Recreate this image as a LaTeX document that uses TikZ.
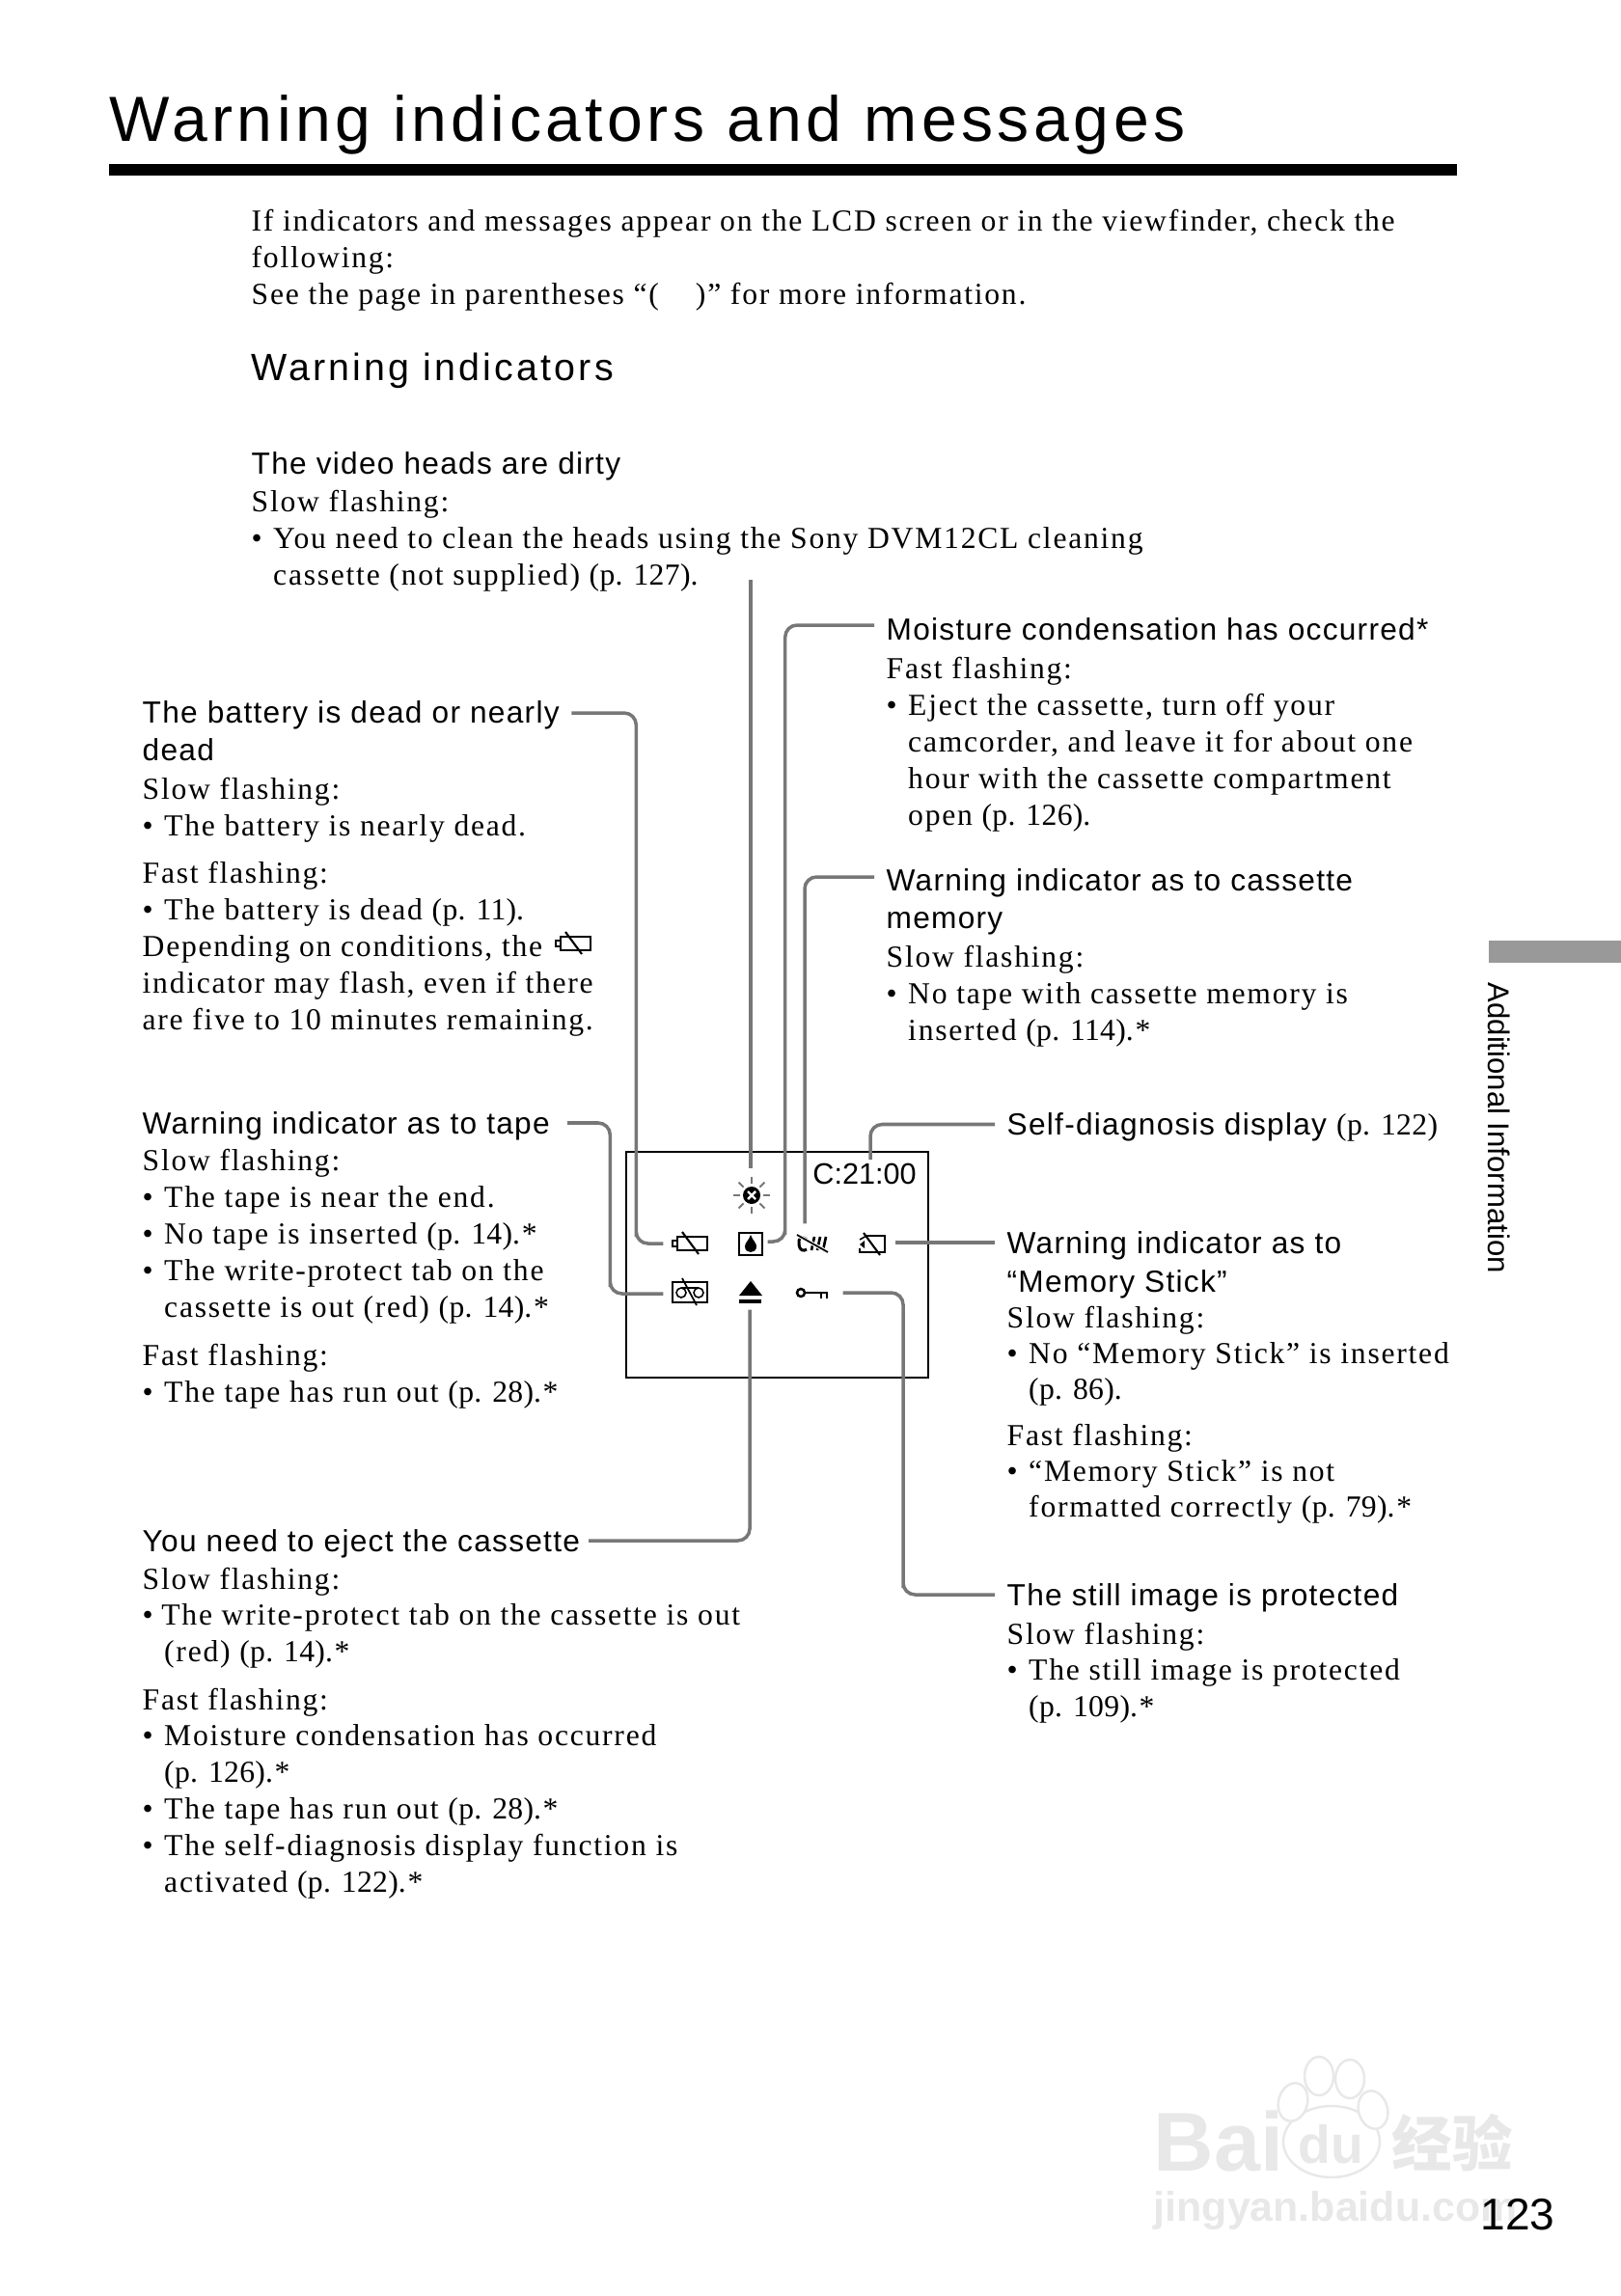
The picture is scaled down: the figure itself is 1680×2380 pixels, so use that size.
\documentclass[tikz,border=0pt]{standalone}
\usepackage{fontspec}
\usepackage{xcolor}
\usetikzlibrary{calc,positioning}
\setmainfont{Liberation Serif}[LetterSpace=5.5]
\setsansfont{Liberation Sans}[LetterSpace=4]
\newfontfamily\titlefont{Liberation Sans}[LetterSpace=6.8]
\newfontfamily\subfont{Liberation Sans}[LetterSpace=8]
\newfontfamily\plainsans{Liberation Sans}
\newfontfamily\pagefont{Liberation Serif}[LetterSpace=1]
\newfontfamily\markfont{Liberation Sans Bold}
\newfontfamily\markcjk{Noto Sans CJK SC}
\definecolor{leadgray}{HTML}{777777}
\definecolor{tabgray}{HTML}{999999}
\definecolor{markgray}{HTML}{E8E8E8}
\newcommand{\bul}{\makebox[6.4pt][l]{•}}
\newcommand{\ind}{\hspace*{6.4pt}}
\newcommand{\pg}[1]{{\pagefont (p. #1)}}
% battery glyph, also used inside the running text
\newcommand{\batglyph}[2]{%
  \draw[line width=0.45pt] (#1-13,#2-7) rectangle (#1+18,#2+7);
  \draw[fill=white,line width=0.45pt] (#1-18,#2-3) rectangle (#1-13,#2+3);
  \draw[line width=0.6pt] (#1-8,#2-12) -- (#1+9,#2+11);}

\begin{document}
\begin{tikzpicture}[
    x=0.01cm, y=-0.01cm,
    bodytext/.style={anchor=north west, inner sep=0pt, align=left,
      font=\rmfamily\fontsize{9}{10.8}\selectfont},
    headtext/.style={anchor=west, inner sep=0pt, text height=8.6pt, text depth=2.2pt,
      font=\sffamily\fontsize{9}{11}\selectfont},
    iconspot/.style={inner sep=0pt, minimum width=#1},
    lead/.style={draw=leadgray, line width=1pt, rounded corners=3.5pt},
    ray/.style={draw=leadgray, line width=0.55pt},
    toe/.style={draw=markgray, line width=0.7pt, fill=white}
  ]
    \useasboundingbox (0,0) rectangle (1680,2380);

    % watermark
    \node[anchor=base west, inner sep=0pt, text=markgray, font=\markfont\fontsize{24.6}{25}\selectfont] (wbai) at (1195,2250) {Bai};
    \draw[toe] (1380,2220) ellipse (50 and 37);
    \foreach \tx/\ty/\trot in {1340/2179/-15, 1367/2152/0, 1399/2155/0, 1423/2187/15}
      \draw[toe, rotate around={\trot:(\tx,\ty)}] (\tx,\ty) ellipse (15 and 20);
    \node[anchor=base, inner sep=0pt, text=markgray, font=\markfont\fontsize{15.7}{16}\selectfont] (wdu) at (1379,2242) {du};
    \node[anchor=base west, inner sep=0pt, text=markgray, font=\markcjk\bfseries\fontsize{17.8}{18}\selectfont] (wjy) at (1442,2245) {经验};
    \node[anchor=base west, inner sep=0pt, text=markgray, font=\markfont\fontsize{12.2}{13}\selectfont] (wurl) at (1195,2302) {jingyan.baidu.com};

    % title
    \node[anchor=base west, inner sep=0pt, font=\titlefont\fontsize{18.8}{22}\selectfont] (title) at (113,147) {Warning indicators and messages};
    \node[anchor=north west, inner sep=0pt, fill=black, minimum width=13.96cm, minimum height=0.12cm] (titlerule) at (112,169) {};

    % side tab
    \node[anchor=north west, inner sep=0pt, fill=tabgray, minimum width=1.38cm, minimum height=0.23cm] (sidetab) at (1542,974) {};
    \node[anchor=north west, inner sep=0pt, rotate=-90, font=\plainsans\fontsize{8.85}{10}\selectfont] (sidetext) at (1566,1018) {Additional Information};

    % intro
    \node[bodytext] (intro) at (260,217) {If indicators and messages appear on the LCD screen or in the viewfinder, check the\\following:\\See the page in parentheses “(\hspace{1.2em})” for more information.};
    \node[headtext, font=\subfont\fontsize{11.2}{13}\selectfont] (hwarn) at (260,383) {Warning indicators};

    % video heads
    \node[headtext] (hhead) at (260,480) {The video heads are dirty};
    \node[bodytext] (bhead) at (260,508) {Slow flashing:\\\bul You need to clean the heads using the Sony DVM12CL cleaning\\\ind cassette (not supplied) \pg{127}.};
    \coordinate (headend) at (778,601);

    % moisture
    \node[headtext] (hmoist) at (918,652.6) {Moisture condensation has occurred*};
    \node[bodytext] (bmoist) at (918,681) {Fast flashing:\\\bul Eject the cassette, turn off your\\\ind camcorder, and leave it for about one\\\ind hour with the cassette compartment\\\ind open \pg{126}.};

    % battery
    \node[headtext] (hbat) at (147,738) {The battery is dead or nearly};
    \node[headtext] (hbatb) at (147,777) {dead};
    \node[bodytext] (bbat) at (147,806) {Slow flashing:\\\bul The battery is nearly dead.};
    \node[bodytext] (bbatf) at (147,893) {Fast flashing:\\\bul The battery is dead \pg{11}.\\Depending on conditions, the\\indicator may flash, even if there\\are five to 10 minutes remaining.};
    \batglyph{594}{978}

    % cassette memory
    \node[headtext] (hmem) at (918,912) {Warning indicator as to cassette};
    \node[headtext] (hmemb) at (918,951.5) {memory};
    \node[bodytext] (bmem) at (918,980) {Slow flashing:\\\bul No tape with cassette memory is\\\ind inserted \pg{114}.*};

    % tape
    \node[headtext] (htape) at (147,1164) {Warning indicator as to tape};
    \node[bodytext] (btape) at (147,1191) {Slow flashing:\\\bul The tape is near the end.\\\bul No tape is inserted \pg{14}.*\\\bul The write-protect tab on the\\\ind cassette is out (red) \pg{14}.*};
    \node[bodytext] (btapef) at (147,1393) {Fast flashing:\\\bul The tape has run out \pg{28}.*};

    % self diagnosis
    \node[headtext] (hdiag) at (1043,1165.5) {Self-diagnosis display {\pagefont (p. 122)}};

    % memory stick
    \node[headtext] (hstick) at (1043,1288) {Warning indicator as to};
    \node[headtext] (hstickb) at (1043,1328) {“Memory Stick”};
    \node[bodytext, font=\rmfamily\fontsize{9}{10.5}\selectfont] (bstick) at (1043,1354) {Slow flashing:\\\bul No “Memory Stick” is inserted\\\ind \pg{86}.};
    \node[bodytext, font=\rmfamily\fontsize{9}{10.5}\selectfont] (bstickf) at (1043,1476) {Fast flashing:\\\bul “Memory Stick” is not\\\ind formatted correctly \pg{79}.*};

    % still image
    \node[headtext] (hstill) at (1043,1653) {The still image is protected};
    \node[bodytext] (bstill) at (1043,1681) {Slow flashing:\\\bul The still image is protected\\\ind \pg{109}.*};

    % eject
    \node[headtext] (heject) at (147,1597) {You need to eject the cassette};
    \node[bodytext] (beject) at (147,1624) {Slow flashing:\\\makebox[5.6pt][l]{•}The write-protect tab on the cassette is out\\\ind (red) \pg{14}.*};
    \node[bodytext] (bejectf) at (147,1749) {Fast flashing:\\\bul Moisture condensation has occurred\\\ind \pg{126}.*\\\bul The tape has run out \pg{28}.*\\\bul The self-diagnosis display function is\\\ind activated \pg{122}.*};

    % lcd screen
    \node[draw, line width=0.5pt, inner sep=0pt, minimum width=3.13cm, minimum height=2.34cm] (lcd) at (805.5,1311) {};
    \node[inner sep=0pt, font=\plainsans\fontsize{8.7}{10}\selectfont] (time) at (896,1217) {C:21:00};
    \coordinate (timeend) at (902,1202);

    \node[iconspot=0.54cm, minimum height=0.54cm] (icstar) at (778,1239) {};
    \node[iconspot=0.54cm] (icbat) at (715,1289) {};
    \node[iconspot=0.34cm] (icdrop) at (778,1287) {};
    \node[iconspot=0.1cm, minimum height=0.4cm] (icclean) at (834,1289) {};
    \node[iconspot=0.48cm] (icstick) at (903,1288) {};
    \node[iconspot=0.54cm] (ictape) at (715,1341) {};
    \node[iconspot=0.3cm, minimum height=0.36cm] (iceject) at (777,1339) {};
    \node[iconspot=0.66cm] (ickey) at (840,1340) {};

    % star
    \fill (779,1239) circle (9);
    \draw[white, line width=0.7pt] (775,1235) -- (783,1243) (783,1235) -- (775,1243);
    \foreach \ang in {0,45,...,315}
      \draw[ray] ($(779,1239)+(\ang:12)$) -- ($(779,1239)+(\ang:19)$);
    % battery
    \batglyph{715}{1289}
    % moisture
    \draw[line width=0.7pt] (766,1278) rectangle (790,1301);
    \fill (778,1280) .. controls (780,1286) and (784,1288) .. (784,1292) .. controls (784,1300) and (772,1300) .. (772,1292) .. controls (772,1288) and (776,1286) .. (778,1280);
    % cleaning
    \draw[line width=0.85pt] (836,1285) .. controls (830,1280) and (827,1284) .. (828,1290) .. controls (829,1297) and (833,1297) .. (836,1295);
    \draw[line width=0.75pt] (844,1282) -- (841,1296) (850,1282) -- (847,1296) (856,1282) -- (853,1296);
    \draw[white, line width=1.1pt] (826,1280) -- (858,1298);
    \draw[line width=0.5pt] (826,1280) -- (858,1298);
    % memory stick glyph
    \draw[line width=0.45pt] (898,1281) -- (917,1281) -- (917,1298) -- (891,1298) -- (891,1294);
    \draw[line width=0.45pt] (891,1285) -- (898,1281);
    \fill (891,1290) -- (896,1286) -- (896,1294) -- cycle;
    \draw[line width=0.6pt] (895,1278) -- (912,1301);
    % tape glyph
    \draw[line width=0.5pt] (697,1329) rectangle (733,1350);
    \draw[line width=0.45pt] (706,1340) circle (5) (724,1340) circle (5);
    \draw[line width=0.45pt] (706,1335) -- (724,1335);
    \draw[line width=0.5pt] (707,1325) -- (722,1353);
    % eject
    \fill (766,1343) -- (790,1343) -- (778,1328) -- cycle;
    \fill (766,1347) rectangle (789,1351);
    % key
    \draw[line width=0.7pt] (830,1340) circle (4);
    \draw[line width=0.6pt] (834,1340) -- (858,1340) (851,1340) -- (851,1346) (857,1340) -- (857,1346);

    % leaders
    \draw[lead] ([xshift=3.4pt,yshift=-0.3pt]hbat.east) -| ($(icbat.west)+(-28,0)$) |- (icbat.west);
    \draw[lead] ([xshift=5pt]htape.east) -| ($(ictape.west)+(-55,0)$) |- (ictape.west);
    \draw[lead] (headend) -- (icstar.north);
    \draw[lead] ([xshift=-3.4pt,yshift=1.3pt]hmoist.west) -| ($(icdrop.east)+(18,0)$) |- (icdrop.east);
    \draw[lead] ([xshift=-3.4pt,yshift=0.85pt]hmem.west) -| (icclean.north);
    \draw[lead] ([xshift=-3.4pt]hdiag.west) -| (timeend);
    \draw[lead] ([xshift=-3.4pt]hstick.west) -- (icstick.east);
    \draw[lead] (ickey.east) -| ($(hstill.west)+(-107,0)$) |- ([xshift=-3.4pt]hstill.west);
    \draw[lead] (iceject.south) |- ([xshift=2.4pt]heject.east);

    \node[anchor=base west, inner sep=0pt, font=\plainsans\fontsize{13.1}{14}\selectfont] (pagenum) at (1534,2311) {123};
  \end{tikzpicture}
\end{document}
